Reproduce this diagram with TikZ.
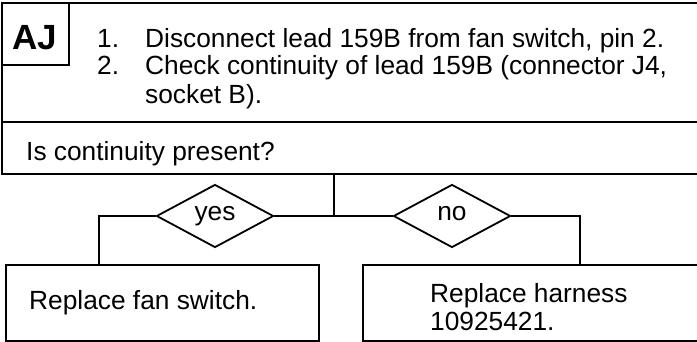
\documentclass[tikz,border=0pt]{standalone}
\usepackage{fontspec}
\setmainfont{Liberation Sans}
\usetikzlibrary{shapes.geometric}

\begin{document}
\begin{tikzpicture}[x=1pt,y=1pt,every node/.style={font=\fontsize{26.3}{28}\selectfont,inner sep=0pt},panel/.style={rectangle,draw=black,line width=1.8pt,anchor=north west},tag/.style={rectangle,draw=black,line width=1.8pt,anchor=north west,minimum width=67pt,minimum height=62pt},choice/.style={diamond,draw=black,line width=1.8pt,aspect=1.86,minimum width=117pt,minimum height=63pt,text height=13pt,text depth=5pt},words/.style={anchor=base west},link/.style={line width=1.8pt}]
\useasboundingbox(0,0)rectangle(697,341);
\clip(0,0)rectangle(697,341);
\node[panel,minimum width=719pt,minimum height=119pt](steps)at(1,339){};
\node[panel,minimum width=719pt,minimum height=52pt](question)at(1,220){};
\node[tag](code)at(1,339){};
\node[words,font=\fontsize{35}{40}\selectfont\bfseries](codetext)at(12,291){AJ};
\node[words](stepstext)at(97,294){\begin{tabular}[t]{@{}p{48pt}@{}l@{}}1.&Disconnect lead 159B from fan switch, pin 2.\\2.&Check continuity of lead 159B (connector J4,\\&socket B).\end{tabular}};
\node[words](asktext)at(26,181){Is continuity present?};
\node[choice](yes)at(215,125){yes};
\node[choice](no)at(452,125){no};
\node[panel,minimum width=313pt,minimum height=76pt](fixswitch)at(5,77){};
\node[panel,minimum width=360pt,minimum height=76pt](fixharness)at(362,77){};
\node[words](switchtext)at(29,32){Replace fan switch.};
\node[words](harnesstext)at(430,39){\begin{tabular}[t]{@{}l@{}}Replace harness\\10925421.\end{tabular}};
\coordinate(split)at(334,125);
\draw[link](question.south-|split)--(split)--(yes.east);\draw[link](yes.west)-|([xshift=94pt]fixswitch.north west);\draw[link](split)--(no.west);\draw[link](no.east)-|([xshift=218pt]fixharness.north west);
\end{tikzpicture}
\end{document}
